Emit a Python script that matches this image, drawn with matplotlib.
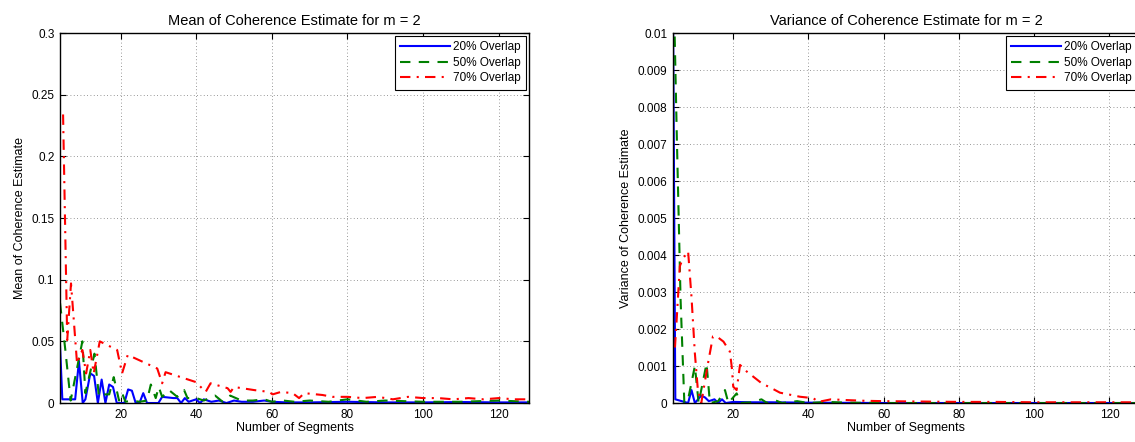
import matplotlib
matplotlib.use("Agg")
import matplotlib.pyplot as plt
from matplotlib.ticker import FuncFormatter

plt.rcParams['font.family'] = ['Liberation Sans', 'DejaVu Sans']

# ---- mean of coherence estimate (left panel) ----
mean20_x = [4, 4.6, 8, 9, 10, 10.7, 12, 13, 14, 15, 16, 17, 18, 19, 21, 22, 23, 24, 25, 26, 27, 30, 31,
            34, 35, 36, 37, 38, 40, 41, 42, 44, 46, 48, 50, 52, 55, 58, 60, 64, 70, 80, 90, 100, 110, 120, 128]
mean20_y = [0.046, 0.003, 0.003, 0.034, 0.0, 0.003, 0.024, 0.022, 0.0, 0.019, 0.0, 0.015, 0.013, 0.0, 0.0,
            0.011, 0.010, 0.0, 0.0, 0.008, 0.0, 0.0, 0.005, 0.004, 0.004, 0.0, 0.004, 0.001, 0.003, 0.0, 0.003,
            0.001, 0.002, 0.0, 0.002, 0.001, 0.001, 0.002, 0.001, 0.0005, 0.0005, 0.001, 0.0005, 0.0005,
            0.0008, 0.0005, 0.0005]

mean50_x = [4, 5.4, 6.8, 9.9, 10.7, 13.1, 14.3, 15.5, 17, 18.2, 19.6, 20.4, 21.3, 23, 25, 27, 28, 29.3, 30.1,
            31, 32.8, 35, 36.8, 37.7, 40, 42, 45, 47, 49, 52, 55, 58, 60, 63, 66, 70, 75, 80, 85, 90, 100,
            110, 120, 128]
mean50_y = [0.081, 0.043, 0.002, 0.050, 0.008, 0.040, 0.005, 0.007, 0.007, 0.021, 0.002, 0.008, 0.001,
            0.002, 0.001, 0.002, 0.015, 0.004, 0.013, 0.005, 0.0105, 0.005, 0.0105, 0.004, 0.004, 0.002,
            0.006, 0.001, 0.006, 0.002, 0.002, 0.003, 0.001, 0.002, 0.001, 0.002, 0.001, 0.003, 0.001,
            0.002, 0.001, 0.001, 0.002, 0.001]

mean70_x = [4.8, 5.9, 6.9, 8.5, 9.9, 10.9, 12, 12.9, 14.5, 19.1, 20.4, 21.9, 29.7, 31, 31.9, 39.9, 42.5,
            43.8, 48.3, 49.1, 50, 55.3, 59.3, 60.2, 62.4, 65.5, 67.2, 68.6, 73.4, 76, 80, 84, 88, 92, 96,
            100, 104, 108, 112, 116, 120, 124, 128]
mean70_y = [0.234, 0.051, 0.097, 0.032, 0.043, 0.024, 0.043, 0.024, 0.050, 0.043, 0.024, 0.039, 0.028,
            0.016, 0.025, 0.017, 0.009, 0.016, 0.012, 0.009, 0.013, 0.0105, 0.009, 0.007, 0.009, 0.008,
            0.004, 0.008, 0.0065, 0.005, 0.005, 0.004, 0.005, 0.003, 0.005, 0.004, 0.004, 0.003, 0.004,
            0.003, 0.004, 0.003, 0.003]

# ---- variance of coherence estimate (right panel) ----
var20_x = [4, 4.6, 8, 8.9, 9.8, 11.5, 12.5, 13.5, 15, 16, 17, 18, 20, 25, 30, 40, 60, 80, 100, 128]
var20_y = [0.0105, 0.0001, 0.0, 0.00035, 0.0, 0.0002, 0.00015, 0.00005, 0.0001, 0.0, 0.0001, 0.0,
           0.00003, 0.00002, 0.00002, 0.00001, 0.0, 0.0, 0.0, 0.0]

var50_x = [4, 5, 6, 7, 8, 9.8, 10.8, 12.9, 13.8, 16, 17.8, 18.7, 20.9, 22, 25, 27.5, 29, 31, 33, 37, 40,
           45, 50, 60, 80, 100, 128]
var50_y = [0.012, 0.0072, 0.0028, 0.0, 0.0001, 0.0010, 0.0, 0.00107, 0.0, 0.00005, 0.00035, 0.0, 0.00026,
           0.0, 0.00002, 0.0001, 0.0, 0.00008, 0.0, 0.00005, 0.0, 0.00003, 0.00001, 0.0, 0.0, 0.0, 0.0]

var70_x = [4.5, 4.9, 5.8, 6.6, 8.0, 8.9, 9.8, 10.6, 11.5, 13.3, 14.6, 15.6, 17.4, 19.1, 19.6, 20.0, 20.9,
           21.8, 23.6, 27.6, 30.2, 32.4, 37.7, 41.3, 42.6, 46, 50, 55, 60, 70, 80, 90, 100, 110, 120, 128]
var70_y = [0.0015, 0.00215, 0.0037, 0.0039, 0.0041, 0.00287, 0.00134, 0.00035, 0.0, 0.00108, 0.0018,
           0.0018, 0.00166, 0.00139, 0.00098, 0.00044, 0.00035, 0.00103, 0.00085, 0.00053, 0.0004,
           0.00028, 0.00017, 0.00013, 0.00003, 0.0001, 0.00008, 0.00006, 0.00005, 0.00004, 0.00003,
           0.00003, 0.00002, 0.00002, 0.00002, 0.00002]

labels = ["20% Overlap", "50% Overlap", "70% Overlap"]
xticks = [20, 40, 60, 80, 100, 120]
mean_yticks = [0, 0.05, 0.1, 0.15, 0.2, 0.25, 0.3]
var_yticks = [0, 0.001, 0.002, 0.003, 0.004, 0.005, 0.006, 0.007, 0.008, 0.009, 0.01]

fig = plt.figure(figsize=(11.35, 4.42), dpi=100)
ax1 = fig.add_axes([0.0529, 0.0882, 0.4132, 0.837])
ax2 = fig.add_axes([0.593, 0.0882, 0.411, 0.837])

panels = [
    (ax1, (mean20_x, mean20_y), (mean50_x, mean50_y), (mean70_x, mean70_y),
     "Mean of Coherence Estimate for m = 2", "Mean of Coherence Estimate", mean_yticks, 0.3),
    (ax2, (var20_x, var20_y), (var50_x, var50_y), (var70_x, var70_y),
     "Variance of Coherence Estimate for m = 2", "Variance of Coherence Estimate", var_yticks, 0.01),
]

for ax, s20, s50, s70, title, ylabel, yticks, ymax in panels:
    ax.plot(*s20, color="#0000ff", linestyle="-", linewidth=1.5, label=labels[0])
    ax.plot(*s50, color="#008000", linestyle=(0, (5, 4)), linewidth=1.5, label=labels[1])
    ax.plot(*s70, color="#ff0000", linestyle=(0, (5, 3, 1, 3)), linewidth=1.5, label=labels[2])

    ax.set_xlim(4, 128)
    ax.set_ylim(0, ymax)
    ax.set_xticks(xticks)
    ax.set_yticks(yticks)
    ax.yaxis.set_major_formatter(FuncFormatter(lambda v, p: "%g" % round(v, 6)))
    ax.tick_params(direction="in", top=True, right=True, labelsize=8.5, length=4, width=0.8, pad=4)
    ax.grid(True, linestyle=(0, (1, 3)), color="#777777", linewidth=0.6)
    for sp in ax.spines.values():
        sp.set_linewidth(1.0)
    ax.set_title(title, fontsize=10.5, pad=6)
    ax.set_xlabel("Number of Segments", fontsize=9, labelpad=1)
    ax.set_ylabel(ylabel, fontsize=9)
    leg = ax.legend(loc="upper right", fontsize=8.5, fancybox=False, framealpha=1, edgecolor="black",
                    handlelength=4.2, borderaxespad=0.25, labelspacing=0.3, borderpad=0.45,
                    handletextpad=0.25)
    leg.get_frame().set_linewidth(0.8)

fig.savefig("out.png", dpi=100)
